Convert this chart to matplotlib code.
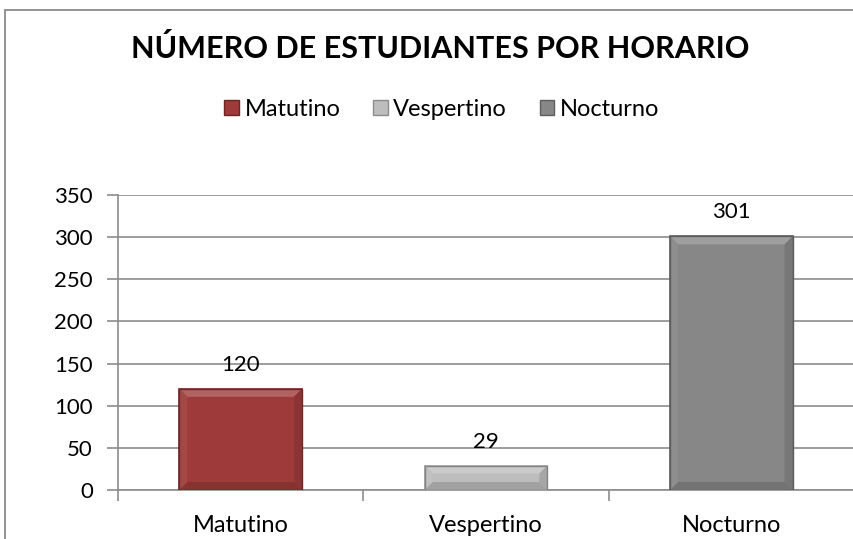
import matplotlib
matplotlib.use("Agg")
import matplotlib.pyplot as plt
from matplotlib.patches import Rectangle, Patch, Polygon
import matplotlib.colors as mcolors

categories = ["Matutino", "Vespertino", "Nocturno"]
values = [120, 29, 301]
colors = ["#9E3B3A", "#BDBDBD", "#878787"]
edge_colors = ["#6E2524", "#8C8C8C", "#5E5E5E"]
yticks = [0, 50, 100, 150, 200, 250, 300, 350]
title = "NÚMERO DE ESTUDIANTES POR HORARIO"

plt.rcParams['font.family'] = ['Lato', 'DejaVu Sans']


def shade(c, f):
    r, g, b = mcolors.to_rgb(c)
    if f >= 0:
        return (r + (1 - r) * f, g + (1 - g) * f, b + (1 - b) * f)
    f = -f
    return (r * (1 - f), g * (1 - f), b * (1 - f))


W, H = 854, 539
fig = plt.figure(figsize=(W / 100, H / 100), dpi=100)
fig.patch.set_facecolor("white")

# outer chart border (cropped at right/bottom)
fig.patches.append(Rectangle((5 / W, -0.1), 1.2, (H - 10) / H + 0.1,
                             transform=fig.transFigure, fill=False,
                             edgecolor="#8A8A8A", linewidth=1.3))

ax_left, ax_bottom = 118 / W, 1 - 490 / H
ax_w, ax_h = 1 - 118 / W, (490 - 195) / H
ax = fig.add_axes([ax_left, ax_bottom, ax_w, ax_h])
x = list(range(len(categories)))
bw = 0.5
bars = ax.bar(x, values, width=bw, color=colors, edgecolor=edge_colors,
              linewidth=1.2, zorder=3)

ax.set_xlim(-0.5, 2.5)
ax.set_ylim(0, 350)

# bevel effect
px_per_x = ax_w * W / 3.0
px_per_y = ax_h * H / 350.0
b = 8
dx, dy = b / px_per_x, b / px_per_y
for xi, v, c in zip(x, values, colors):
    x0, x1, y0, y1 = xi - bw / 2, xi + bw / 2, 0, v
    polys = [
        ([(x0, y1), (x1, y1), (x1 - dx, y1 - dy), (x0 + dx, y1 - dy)], shade(c, 0.2)),
        ([(x0, y0), (x1, y0), (x1 - dx, y0 + dy), (x0 + dx, y0 + dy)], shade(c, -0.15)),
        ([(x0, y0), (x0, y1), (x0 + dx, y1 - dy), (x0 + dx, y0 + dy)], shade(c, 0.06)),
        ([(x1, y0), (x1, y1), (x1 - dx, y1 - dy), (x1 - dx, y0 + dy)], shade(c, -0.12)),
    ]
    for pts, col in polys:
        ax.add_patch(Polygon(pts, closed=True, facecolor=col, edgecolor="none", zorder=4))
    ax.add_patch(Rectangle((x0, y0), bw, v, fill=False, edgecolor=shade(c, -0.3),
                           linewidth=1.0, zorder=5))
    ax.annotate(str(v), (xi, v), xytext=(0, 10), textcoords="offset points",
                ha="center", va="bottom", fontsize=16, color="black")

ax.set_yticks(yticks)
ax.set_yticklabels([str(t) for t in yticks], fontsize=16)
ax.yaxis.grid(True, color="#8C8C8C", linewidth=1.2, zorder=0)
ax.set_axisbelow(True)

ax.set_xticks(x)
ax.set_xticklabels(categories, fontsize=17)
ax.tick_params(axis="x", length=0, pad=18)
ax.set_xticks([-0.5, 0.5, 1.5, 2.5], minor=True)
ax.tick_params(axis="x", which="minor", length=8, color="#8C8C8C", width=1.2)
ax.tick_params(axis="y", length=8, color="#8C8C8C", width=1.2, pad=10)

for s in ["top", "right"]:
    ax.spines[s].set_visible(False)
for s in ["left", "bottom"]:
    ax.spines[s].set_color("#8C8C8C")
    ax.spines[s].set_linewidth(1.2)

fig.text(440 / W, 1 - 49 / H, title, ha="center", va="center",
         fontsize=22, fontweight="bold")

handles = [Patch(facecolor=c, edgecolor=e, linewidth=1) for c, e in zip(colors, edge_colors)]
fig.legend(handles, categories, loc="center", bbox_to_anchor=(442 / W, 1 - 109 / H),
           ncol=3, frameon=False, fontsize=17, handlelength=0.6, handleheight=0.6,
           handletextpad=0.25, columnspacing=1.4)

fig.savefig("out.png", dpi=100)
